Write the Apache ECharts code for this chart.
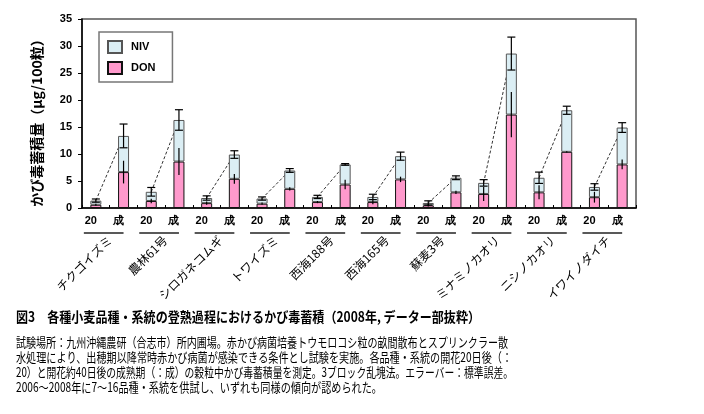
<!DOCTYPE html>
<html>
<head>
<meta charset="utf-8">
<script src="https://cdn.jsdelivr.net/npm/echarts@6/dist/echarts.min.js"></script>
<style>
html,body{margin:0;padding:0;background:#fff;}
#chart{width:704px;height:414px;}
</style>
</head>
<body>
<div id="chart"></div>
<script>
// ---- data ----
const stageLabels = ['20','成','20','成','20','成','20','成','20','成','20','成','20','成','20','成','20','成','20','成'];
const varieties = ['チクゴイズミ','農林61号','シロガネコムギ','トワイズミ','西海188号','西海165号','蘇麦3号','ミナミノカオリ','ニシノカオリ','イワイノダイチ'];
const donValues = [0.6, 6.65, 1.3, 8.6, 0.9, 5.4, 0.8, 3.55, 1.1, 4.35, 1.1, 5.3, 0.5, 2.9, 2.6, 17.3, 2.9, 10.4, 2.0, 8.07];
const nivValues = [0.77, 6.7, 1.7, 7.7, 0.95, 4.5, 0.95, 3.4, 0.95, 3.72, 0.95, 4.3, 0.43, 2.7, 2.05, 11.3, 2.7, 7.7, 1.9, 6.83];
const totalErr = [0.3, 2.2, 0.8, 1.9, 0.4, 0.7, 0.3, 0.35, 0.3, 0.15, 0.5, 0.75, 0.4, 0.35, 0.6, 3.05, 1.05, 0.75, 0.6, 0.9];
const donErr = [0.2, 2.1, 0.4, 2.5, 0.3, 0.9, 0.2, 0.3, 0.2, 0.9, 0.4, 0.5, 0.2, 0.3, 1.3, 4.2, 1.3, 0.1, 1.0, 0.9];
const yTicks = {min: 0, max: 35, interval: 5};

const titleText = '図3　各種小麦品種・系統の登熟過程におけるかび毒蓄積（2008年, データー部抜粋）';
const captionLines = [
  '試験場所：九州沖縄農研（合志市）所内圃場。赤かび病菌培養トウモロコシ粒の畝間散布とスプリンクラー散',
  '水処理により、出穂期以降常時赤かび病菌が感染できる条件とし試験を実施。各品種・系統の開花20日後（：',
  '20）と開花約40日後の成熟期（：成）の穀粒中かび毒蓄積量を測定。3ブロック乱塊法。エラーバー：標準誤差。',
  '2006～2008年に7～16品種・系統を供試し、いずれも同様の傾向が認められた。'
];

// ---- derived ----
const totals = donValues.map((d, i) => +(d + nivValues[i]).toFixed(3));
const errData = totals.map((t, i) => [i, t, totalErr[i], donValues[i], donErr[i]]);
const pairLines = varieties.map((v, g) => [2 * g, totals[2 * g], 2 * g + 1, totals[2 * g + 1]]);
const underlines = varieties.map((v, g) => [2 * g, 0, 2 * g + 1]);

const FONT_JP = '"Noto Sans CJK JP", sans-serif';
const FONT_EN = '"Liberation Sans", Arial, sans-serif';

const measureCtx = document.createElement('canvas').getContext('2d');
function fitScale(text, font, target) {
  measureCtx.font = font;
  const w = measureCtx.measureText(text).width;
  return target / w;
}

const titleFont = 'bold 14px ' + FONT_JP;
const capFont = '13px ' + FONT_JP;
const capTargets = [492, 496, 497, 366];
const capY = [342, 357, 372, 387];

const graphics = [{
  type: 'text', x: 16, y: 317,
  scaleX: fitScale(titleText, titleFont, 464),
  style: {text: titleText, font: titleFont, fill: '#000', verticalAlign: 'middle', align: 'left'}
}];
captionLines.forEach((t, i) => {
  graphics.push({
    type: 'text', x: 16, y: capY[i],
    scaleX: fitScale(t, capFont, capTargets[i]),
    style: {text: t, font: capFont, fill: '#000', verticalAlign: 'middle', align: 'left'}
  });
});

const chart = echarts.init(document.getElementById('chart'), null, {renderer: 'canvas'});
chart.setOption({
  animation: false,
  backgroundColor: '#fff',
  grid: {left: 82, right: 68, top: 19, bottom: 206, show: true, borderColor: '#555', borderWidth: 1.5, backgroundColor: '#fff'},
  legend: {
    data: ['NIV', 'DON'], orient: 'vertical', left: 99, top: 32,
    padding: [8, 17, 7, 8], itemGap: 7, itemWidth: 14, itemHeight: 12,
    borderColor: '#777', borderWidth: 1.5, backgroundColor: '#fff',
    textStyle: {fontFamily: FONT_EN, fontWeight: 'bold', fontSize: 11, color: '#000', padding: [0, 0, 0, 4]},
    icon: 'rect'
  },
  xAxis: [{
    type: 'category', data: stageLabels, gridIndex: 0,
    axisLine: {lineStyle: {color: '#000', width: 1.5}},
    axisTick: {show: true, inside: true, length: 3, interval: 0, lineStyle: {color: '#000'}},
    axisLabel: {interval: 0, margin: 7, fontFamily: FONT_EN, fontWeight: 'bold', fontSize: 11, color: '#000', padding: [0, 10, 0, 0]},
    splitLine: {show: false}
  }, {
    type: 'category', data: varieties, gridIndex: 0, position: 'bottom',
    axisLine: {show: false}, axisTick: {show: false},
    axisLabel: {interval: 0, rotate: 45, margin: 30, fontFamily: FONT_JP, fontSize: 12, color: '#000'},
    splitLine: {show: false}
  }],
  yAxis: {
    type: 'value', min: yTicks.min, max: yTicks.max, interval: yTicks.interval,
    axisLine: {show: true, lineStyle: {color: '#000', width: 1.5}},
    axisTick: {show: true, length: 4, lineStyle: {color: '#000'}},
    axisLabel: {margin: 10, fontFamily: FONT_EN, fontWeight: 'bold', fontSize: 11, color: '#000'},
    splitLine: {show: false},
    name: 'かび毒蓄積量（μg/100粒）', nameLocation: 'middle', nameRotate: 90, nameGap: 38,
    nameTextStyle: {fontFamily: FONT_JP, fontWeight: 'bold', fontSize: 14, color: '#000', padding: [0, 12, 0, 0]}
  },
  series: [
    {
      type: 'custom', name: 'pairline', z: 1, silent: true,
      data: pairLines, encode: {x: [0, 2], y: [1, 3]},
      renderItem: function (params, api) {
        const p0 = api.coord([api.value(0), api.value(1)]);
        const p1 = api.coord([api.value(2), api.value(3)]);
        return {type: 'line', shape: {x1: p0[0], y1: p0[1], x2: p1[0], y2: p1[1]},
          style: {stroke: '#333', lineWidth: 1, lineDash: [3, 2]}};
      }
    },
    {
      type: 'bar', name: 'DON', stack: 'tox', z: 2, barWidth: 11, xAxisIndex: 0,
      data: donValues,
      itemStyle: {color: '#ff99cc', borderColor: '#111', borderWidth: 1}
    },
    {
      type: 'bar', name: 'NIV', stack: 'tox', z: 2, barWidth: 11, xAxisIndex: 0,
      data: nivValues,
      itemStyle: {color: '#dbeef4', borderColor: '#555', borderWidth: 1}
    },
    {
      type: 'custom', name: 'err', z: 3, silent: true,
      data: errData, encode: {x: 0, y: 1},
      renderItem: function (params, api) {
        const i = api.value(0), t = api.value(1), et = api.value(2), d = api.value(3), ed = api.value(4);
        const x = api.coord([i, 0])[0];
        const yt1 = api.coord([i, t + et])[1], yt0 = api.coord([i, t - et])[1];
        const yd1 = api.coord([i, d + ed])[1], yd0 = api.coord([i, d - ed])[1];
        const st = {stroke: '#000', lineWidth: 1.2};
        return {type: 'group', children: [
          {type: 'line', shape: {x1: x, y1: yt1, x2: x, y2: yt0}, style: st},
          {type: 'line', shape: {x1: x - 4, y1: yt1, x2: x + 4, y2: yt1}, style: st},
          {type: 'line', shape: {x1: x - 4, y1: yt0, x2: x + 4, y2: yt0}, style: st},
          {type: 'line', shape: {x1: x, y1: yd1, x2: x, y2: yd0}, style: st}
        ]};
      }
    },
    {
      type: 'custom', name: 'underline', z: 3, silent: true, clip: false,
      data: underlines, encode: {x: [0, 2], y: 1},
      renderItem: function (params, api) {
        const a = api.coord([api.value(0), 0]);
        const b = api.coord([api.value(2), 0]);
        const y = a[1] + 25;
        return {type: 'line', shape: {x1: a[0] - 12, y1: y, x2: b[0], y2: y},
          style: {stroke: '#222', lineWidth: 1.3}};
      }
    }
  ],
  graphic: graphics
});
</script>
</body>
</html>
